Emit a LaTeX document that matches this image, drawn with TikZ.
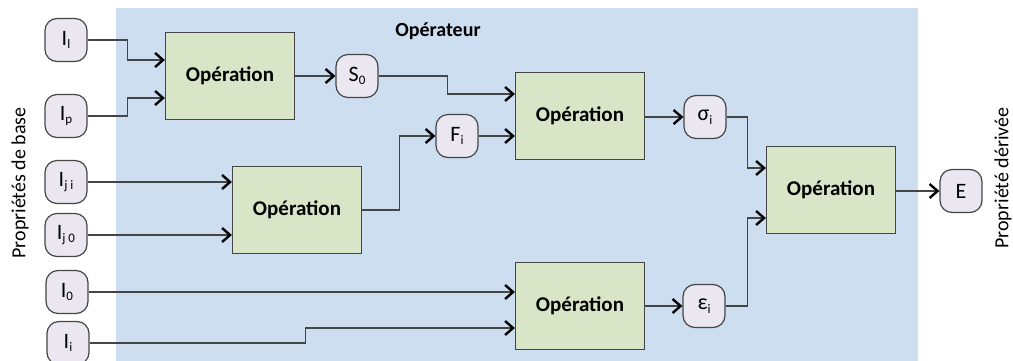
\documentclass[tikz,border=0pt]{standalone}
\usepackage{fontspec}
\setmainfont{Carlito}
\usetikzlibrary{arrows.meta,calc}
\definecolor{bgblue}{HTML}{CCDEF0}
\definecolor{opgreen}{HTML}{D9E5C7}
\definecolor{lav}{HTML}{EAE7F0}
\definecolor{edge}{HTML}{454545}
\newcommand{\lsub}[1]{\raisebox{-0.35ex}{\fontsize{13}{14}\selectfont #1}}
\begin{document}
\begin{tikzpicture}[x=1pt,y=-1pt,
  inp/.style={draw=edge,line width=1.2pt,fill=lav,rounded corners=12pt,
    minimum width=42pt,minimum height=43pt,inner sep=0pt,font=\fontsize{22}{24}\selectfont},
  opbox/.style={draw=edge,line width=1.2pt,fill=opgreen,minimum width=129pt,
    minimum height=87pt,inner sep=0pt,font=\bfseries\fontsize{21}{24}\selectfont},
  conn/.style={draw=edge,line width=1.2pt},
  arr/.style={conn,-{Straight Barb[length=8pt,width=14pt,line width=2.4pt,color=black]}}]
\useasboundingbox (0,0) rectangle (1013,360);
\fill[bgblue] (116,8) rectangle (918,362);
\node[font=\bfseries\fontsize{20}{22}\selectfont] (title) at (438,31) {Opérateur};
\node[rotate=90,font=\fontsize{20}{22}\selectfont] (lbase) at (20,183) {Propriétés de base};
\node[rotate=90,font=\fontsize{20}{22}\selectfont] (lder) at (1003,178) {Propriété dérivée};
% inputs
\node[inp] (Il) at (66,40) {I\lsub{l}};
\node[inp] (Ip) at (66,116) {I\lsub{p}};
\node[inp] (Iji) at (66,182) {I\lsub{j i}};
\node[inp] (Ijo) at (66,235) {I\lsub{j 0}};
\node[inp] (Io) at (67,292) {I\lsub{0}};
\node[inp] (Ii) at (68,343) {I\lsub{i}};
% operations
\node[opbox] (op1) at (230,76) {Opération};
\node[opbox] (op2) at (580,116) {Opération};
\node[opbox] (op3) at (297,210) {Opération};
\node[opbox] (op4) at (580,306) {Opération};
\node[opbox] (op5) at (831,190) {Opération};
% intermediates
\node[inp] (S0) at (357,76) {S\lsub{0}};
\node[inp] (Fi) at (457,136) {F\lsub{i}};
\node[inp] (sig) at (705,117) {σ\lsub{i}};
\node[inp] (eps) at (704,306) {ε\lsub{i}};
\node[inp] (E) at (961,191) {E};
% connectors
\draw[arr] (Il.east) -- ++(40,0) |- ([yshift=16pt]op1.west);
\draw[arr] (Ip.east) -- ++(40,0) |- ([yshift=-22pt]op1.west);
\draw[arr] (op1.east) -- (S0.west);
\draw[arr] (S0.east) -- ++(69,0) |- ([yshift=22pt]op2.west);
\draw[arr] (Iji.east) -- (Iji.east -| op3.west);
\draw[arr] (Ijo.east) -- (Ijo.east -| op3.west);
\draw[arr] (op3.east) -- ++(37,0) |- (Fi.west);
\draw[arr] (Fi.east) -- (Fi.east -| op2.west);
\draw[arr] (Io.east) -- (Io.east -| op4.west);
\draw[arr] (Ii.east) -- ++(216,0) |- ([yshift=-22pt]op4.west);
\draw[arr] (op2.east |- sig.west) -- (sig.west);
\draw[arr] (op4.east) -- (eps.west);
\draw[arr] (sig.east) -- ++(21,0) |- ([yshift=22pt]op5.west);
\draw[arr] (eps.east) -- ++(22,0) |- ([yshift=-28pt]op5.west);
\draw[arr] (op5.east |- E.west) -- (E.west);
\end{tikzpicture}
\end{document}
